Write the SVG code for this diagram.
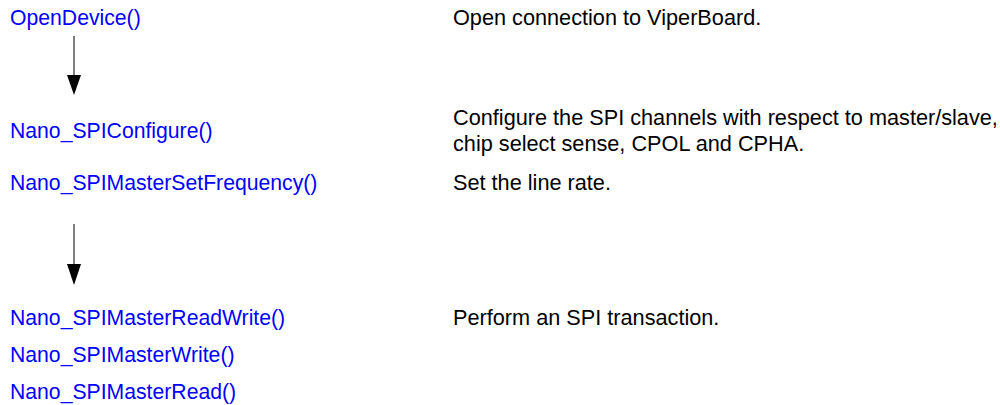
<svg xmlns="http://www.w3.org/2000/svg" width="1000" height="405" viewBox="0 0 1000 405">
<style>
.fn{font-family:"Liberation Sans",Arial,sans-serif;font-size:21.2px;fill:#0000ff}
.ds{font-family:"Liberation Sans",Arial,sans-serif;font-size:21.7px;fill:#000}
.ln{stroke:#000;stroke-width:1;fill:none}
.hd{fill:#000}
</style>
<rect width="1000" height="405" fill="#fff"/>
<g id="connectors">
<path class="ln" d="M74,36 V75"/>
<path class="hd" d="M67,75 L81,75 L74,95 Z"/>
<path class="ln" d="M74,224 V264"/>
<path class="hd" d="M67,264 L81,264 L74,285 Z"/>
</g>
<g id="n-open"><text class="fn" x="10" y="25">OpenDevice()</text><text class="ds" x="453" y="25">Open connection to ViperBoard.</text></g>
<g id="n-config"><text class="fn" x="10" y="138">Nano_SPIConfigure()</text><text class="ds" x="453" y="125">Configure the SPI channels with respect to master/slave,</text><text class="ds" x="453" y="151">chip select sense, CPOL and CPHA.</text></g>
<g id="n-freq"><text class="fn" x="10" y="190">Nano_SPIMasterSetFrequency()</text><text class="ds" x="453" y="190">Set the line rate.</text></g>
<g id="n-rw"><text class="fn" x="10" y="325">Nano_SPIMasterReadWrite()</text><text class="ds" x="453" y="325">Perform an SPI transaction.</text></g>
<g id="n-w"><text class="fn" x="10" y="361.5">Nano_SPIMasterWrite()</text></g>
<g id="n-r"><text class="fn" x="10" y="398.5">Nano_SPIMasterRead()</text></g>
</svg>
